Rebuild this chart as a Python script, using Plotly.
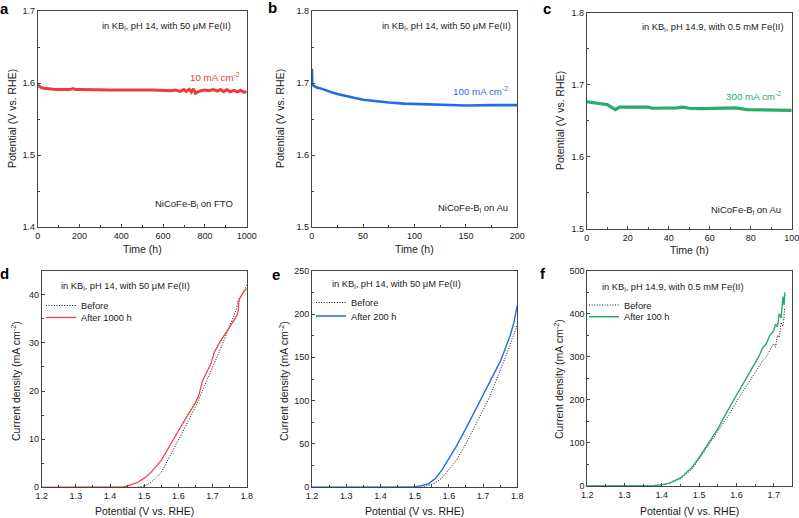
import plotly.graph_objects as go

W, H = 799, 518


def px(x):
    return x / W


def py(y):
    return 1 - y / H


# ---------------- data ----------------
# panel a: chronopotentiometry at 10 mA cm-2 on FTO
a_time = [0, 5, 15, 30, 50, 75, 100, 125, 150, 170, 180, 200, 250, 300, 350, 400, 450, 470,
          500, 550, 600, 640, 660, 680, 700, 710, 725, 735, 745, 755, 765, 780, 800, 820,
          840, 860, 875, 890, 905, 920, 940, 955, 970, 985, 1000]
a_pot = [1.5975, 1.596, 1.594, 1.593, 1.592, 1.5915, 1.591, 1.591, 1.591, 1.5925, 1.591, 1.591,
         1.5905, 1.5905, 1.5905, 1.5905, 1.591, 1.5912, 1.5905, 1.5905, 1.590, 1.5895, 1.5905,
         1.5885, 1.591, 1.5885, 1.5915, 1.5875, 1.592, 1.586, 1.5875, 1.5895, 1.5905, 1.5895,
         1.591, 1.589, 1.591, 1.588, 1.591, 1.588, 1.590, 1.5875, 1.590, 1.5875, 1.588]

# panel b: 100 mA cm-2 on Au
b_time = [0, 0.3, 0.6, 2, 5, 10, 15, 20, 25, 30, 40, 50, 60, 75, 90, 100, 125, 150, 175, 200]
b_pot = [1.700, 1.720, 1.698, 1.696, 1.694, 1.692, 1.689, 1.687, 1.685, 1.683, 1.680, 1.677,
         1.675, 1.673, 1.6715, 1.671, 1.670, 1.669, 1.6695, 1.6695]

# panel c: 300 mA cm-2 on Au
c_time = [0, 3, 6, 10, 12, 14, 16, 20, 25, 30, 32, 36, 40, 44, 47, 50, 55, 60, 65, 70, 73,
          78, 85, 90, 95, 100]
c_pot = [1.6765, 1.675, 1.674, 1.6725, 1.669, 1.6655, 1.669, 1.669, 1.6685, 1.669, 1.6675,
         1.6675, 1.6675, 1.668, 1.669, 1.6675, 1.667, 1.667, 1.667, 1.667, 1.668, 1.6655,
         1.665, 1.665, 1.6645, 1.6645]

# panel d: LSV before / after 1000 h (FTO)
d_v_before = [1.2, 1.48, 1.5, 1.52, 1.55, 1.58, 1.6, 1.62, 1.65, 1.68, 1.7, 1.72, 1.75, 1.77,
              1.775, 1.78, 1.79, 1.8]
d_j_before = [0, 0, 0.3, 1.0, 3.1, 7.0, 9.8, 12.5, 16.7, 21.5, 25.0, 28.2, 33.4, 37.0, 39.0,
              39.5, 40.5, 42.0]
d_v_after = [1.2, 1.38, 1.4, 1.44, 1.46, 1.48, 1.5, 1.52, 1.55, 1.58, 1.6, 1.62, 1.65, 1.66,
             1.665, 1.67, 1.68, 1.69, 1.695, 1.7, 1.705, 1.72, 1.75, 1.77, 1.775, 1.777, 1.78,
             1.79, 1.8]
d_j_after = [0, 0.1, 0, 0.1, 0.5, 1.0, 1.9, 3.1, 5.6, 9.4, 11.7, 14.1, 17.6, 19.1, 20.6, 22.0,
             23.5, 24.8, 25.6, 26.8, 28.0, 30.0, 33.2, 35.5, 36.5, 38.5, 39.3, 40.5, 41.3]

# panel e: LSV before / after 200 h (Au)
e_v_before = [1.2, 1.5, 1.52, 1.54, 1.56, 1.58, 1.6, 1.62, 1.65, 1.68, 1.7, 1.72, 1.74, 1.75,
              1.755, 1.76, 1.77, 1.78, 1.785, 1.79, 1.8]
e_j_before = [0, 0, 0.5, 2, 5, 11, 20, 30, 50, 73, 88, 105, 125, 135, 138, 145, 155, 165, 172,
              176, 188]
e_v_after = [1.2, 1.48, 1.5, 1.52, 1.54, 1.56, 1.58, 1.6, 1.62, 1.65, 1.68, 1.7, 1.72, 1.74,
             1.75, 1.76, 1.78, 1.79, 1.8]
e_j_after = [0, 0, 0.5, 2, 4, 10, 20, 33, 46, 68, 91, 106, 121, 137, 145, 155, 176, 190, 210]

# panel f: LSV before / after 100 h (Au, pH 14.9)
f_v_before = [1.2, 1.35, 1.38, 1.4, 1.42, 1.45, 1.48, 1.5, 1.52, 1.55, 1.58, 1.6, 1.62, 1.65,
              1.67, 1.68, 1.69, 1.7, 1.705, 1.71, 1.715, 1.72, 1.725, 1.73]
f_j_before = [0, 0, 0.5, 2, 5, 16, 38, 62, 88, 125, 165, 195, 222, 262, 290, 300, 315, 330,
              322, 350, 345, 380, 370, 415]
f_v_after = [1.2, 1.35, 1.38, 1.4, 1.42, 1.45, 1.48, 1.5, 1.52, 1.55, 1.58, 1.6, 1.62, 1.64,
             1.65, 1.66, 1.67, 1.68, 1.69, 1.7, 1.705, 1.71, 1.715, 1.72, 1.725, 1.728, 1.73]
f_j_after = [0, 0, 0.5, 2, 6, 18, 42, 65, 92, 132, 180, 210, 240, 272, 285, 300, 320, 330, 350,
             360, 375, 370, 400, 390, 440, 420, 450]

RED = "#F03B3B"
BLUE = "#1E6FE6"
GREEN = "#2BAA6A"
BLACK = "#111111"

FONT = "Liberation Sans, Arial, sans-serif"
AXC = "#444444"
TXT = "#1a1a1a"
DOT = "1px,1.6px"

fig = go.Figure()

# time series
fig.add_trace(go.Scatter(x=a_time, y=a_pot, mode="lines", line=dict(color=RED, width=3),
                         xaxis="x", yaxis="y", showlegend=False))
fig.add_trace(go.Scatter(x=b_time, y=b_pot, mode="lines", line=dict(color=BLUE, width=2.6),
                         xaxis="x2", yaxis="y2", showlegend=False))
fig.add_trace(go.Scatter(x=c_time, y=c_pot, mode="lines", line=dict(color=GREEN, width=3.2),
                         xaxis="x3", yaxis="y3", showlegend=False))

# LSV curves (each legend entry gets its own legend box for tight spacing)
fig.add_trace(go.Scatter(x=d_v_before, y=d_j_before, mode="lines", name="Before",
                         line=dict(color=BLACK, width=1, dash=DOT),
                         xaxis="x4", yaxis="y4", legend="legend"))
fig.add_trace(go.Scatter(x=d_v_after, y=d_j_after, mode="lines", name="After 1000 h",
                         line=dict(color=RED, width=1.2),
                         xaxis="x4", yaxis="y4", legend="legend2"))
fig.add_trace(go.Scatter(x=e_v_before, y=e_j_before, mode="lines", name="Before",
                         line=dict(color=BLACK, width=1, dash=DOT),
                         xaxis="x5", yaxis="y5", legend="legend3"))
fig.add_trace(go.Scatter(x=e_v_after, y=e_j_after, mode="lines", name="After 200 h",
                         line=dict(color=BLUE, width=1.4),
                         xaxis="x5", yaxis="y5", legend="legend4"))
fig.add_trace(go.Scatter(x=f_v_before, y=f_j_before, mode="lines", name="Before",
                         line=dict(color=BLACK, width=1, dash=DOT),
                         xaxis="x6", yaxis="y6", legend="legend5"))
fig.add_trace(go.Scatter(x=f_v_after, y=f_j_after, mode="lines", name="After 100 h",
                         line=dict(color=GREEN, width=1.4),
                         xaxis="x6", yaxis="y6", legend="legend6"))

TS = 10.5


def ax(domain, rng, dtick, anchor):
    return dict(domain=domain, range=rng, dtick=dtick, anchor=anchor,
                showline=True, linecolor=AXC, linewidth=1, mirror=True,
                ticks="inside", ticklen=3, tickwidth=1, tickcolor=AXC,
                minor=dict(ticks="inside", ticklen=2, tickwidth=1, tickcolor=AXC,
                           dtick=dtick / 2, showgrid=False),
                showgrid=False, zeroline=False, fixedrange=True,
                ticklabeloverflow="allow",
                tickfont=dict(family=FONT, size=9, color=TXT))


top_y = [py(227.3), py(11)]
top_yc = [py(229), py(12.7)]
bot_y = [py(487.3), py(270.7)]
bot_yf = [py(485.7), py(270.7)]

layout = dict(
    width=W, height=H, margin=dict(l=0, r=0, t=0, b=0, autoexpand=False),
    paper_bgcolor="white", plot_bgcolor="white",
    font=dict(family=FONT, size=10, color=TXT),
    xaxis=ax([px(37.7), px(246.7)], [0, 1000], 200, "y"),
    yaxis=ax(top_y, [1.4, 1.7], 0.1, "x"),
    xaxis2=ax([px(311.7), px(517.3)], [0, 200], 50, "y2"),
    yaxis2=ax(top_y, [1.5, 1.8], 0.1, "x2"),
    xaxis3=ax([px(586.7), px(791.7)], [0, 100], 20, "y3"),
    yaxis3=ax(top_yc, [1.5, 1.8], 0.1, "x3"),
    xaxis4=ax([px(41.7), px(246.7)], [1.2, 1.8], 0.1, "y4"),
    yaxis4=ax(bot_y, [0, 45], 10, "x4"),
    xaxis5=ax([px(312), px(517.3)], [1.2, 1.8], 0.1, "y5"),
    yaxis5=ax(bot_y, [0, 250], 50, "x5"),
    xaxis6=ax([px(587.3), px(792.3)], [1.2, 1.75], 0.1, "y6"),
    yaxis6=ax(bot_yf, [0, 500], 100, "x6"),
)


def leg(xl, yt):
    return dict(x=px(xl), y=py(yt), xanchor="left", yanchor="top",
                bgcolor="rgba(0,0,0,0)", borderwidth=0, itemwidth=30,
                tracegroupgap=0, font=dict(family=FONT, size=9.3, color=TXT))


layout["legend"] = leg(41, 291)
layout["legend2"] = leg(41, 303)
layout["legend3"] = leg(311, 288)
layout["legend4"] = leg(311, 301.5)
layout["legend5"] = leg(584, 290.5)
layout["legend6"] = leg(584, 302.3)

ann = []


def text(x, y, s, size=9.3, color=TXT, xanchor="center", angle=0, bold=False):
    if bold:
        s = "<b>" + s + "</b>"
    ann.append(dict(x=px(x), y=py(y), xref="paper", yref="paper", text=s, showarrow=False,
                    xanchor=xanchor, yanchor="middle", textangle=angle,
                    font=dict(family=FONT, size=size, color=color)))


# panel letters
for s, x, y in [("a", 4, 9), ("b", 272, 8), ("c", 547, 9), ("d", 4, 273), ("e", 276, 274),
                ("f", 543, 273)]:
    text(x, y, s, size=15, bold=True, color="#000")

# condition labels
text(233, 26, "in KB<sub>i</sub>, pH 14, with 50 μM Fe(II)", xanchor="right")
text(513, 26, "in KB<sub>i</sub>, pH 14, with 50 μM Fe(II)", xanchor="right")
text(785, 27, "in KB<sub>i</sub>, pH 14.9, with 0.5 mM Fe(II)", xanchor="right")
text(59, 286, "in KB<sub>i</sub>, pH 14, with 50 μM Fe(II)", xanchor="left")
text(330, 284.5, "in KB<sub>i</sub>, pH 14, with 50 μM Fe(II)", xanchor="left")
text(600, 287, "in KB<sub>i</sub>, pH 14.9, with 0.5 mM Fe(II)", xanchor="left")

# current density labels
text(242, 77, "10 mA cm<sup>-2</sup>", size=9.8, color=RED, xanchor="right")
text(510, 90.5, "100 mA cm<sup>-2</sup>", size=9.8, color=BLUE, xanchor="right")
text(783, 95.5, "300 mA cm<sup>-2</sup>", size=9.8, color=GREEN, xanchor="right")

# electrode labels
text(235, 204, "NiCoFe-B<sub>i</sub> on FTO", size=9.5, xanchor="right")
text(510, 208, "NiCoFe-B<sub>i</sub> on Au", size=9.5, xanchor="right")
text(783, 210, "NiCoFe-B<sub>i</sub> on Au", size=9.5, xanchor="right")

# axis titles
T_TIME = "Time (h)"
T_POT = "Potential (V vs. RHE)"
T_CD = "Current density (mA cm<sup>-2</sup>)"
text(142.2, 248.5, T_TIME, size=TS)
text(414.5, 248.5, T_TIME, size=TS)
text(689.2, 249.5, T_TIME, size=TS)
text(144.2, 511, T_POT, size=TS)
text(414.7, 510.5, T_POT, size=TS)
text(689.8, 510.5, T_POT, size=TS)
text(12, 119, T_POT, size=TS, angle=-90)
text(280, 119, T_POT, size=TS, angle=-90)
text(560, 121, T_POT, size=TS, angle=-90)
text(15, 381, T_CD, size=TS, angle=-90)
text(283, 381, T_CD, size=TS, angle=-90)
text(558, 379, T_CD, size=TS, angle=-90)

layout["annotations"] = ann
fig.update_layout(**layout)

fig.write_html(
    "out.html",
    config={"displayModeBar": False},
    post_script="document.body.style.margin='0';document.body.style.overflow='hidden';",
)
